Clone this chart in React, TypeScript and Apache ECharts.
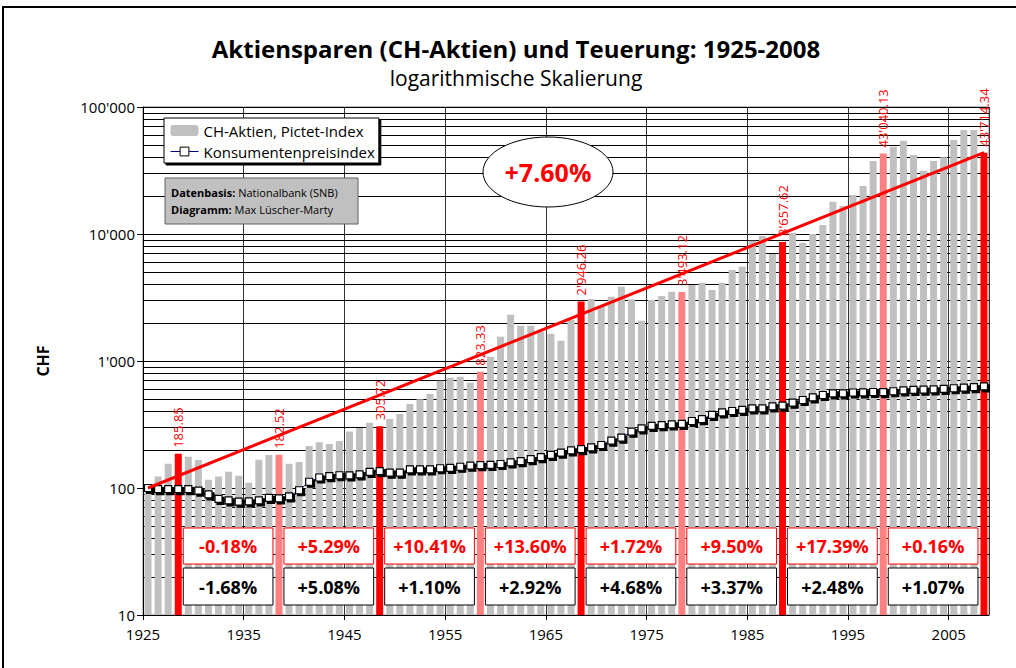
import React, { useEffect, useRef } from 'react';
import * as echarts from 'echarts';

const START_YEAR = 1925;

// CH-Aktien, Pictet-Index (CHF, 1925 = 100)
const stockIndex = [
  100, 123, 155, 185.85, 176, 166, 116, 123, 134, 125,
  110, 167, 182, 182.52, 155, 160, 214, 229, 222, 234,
  278, 297, 327, 305.72, 350, 382, 458, 499, 550, 700,
  739, 752, 675, 823.33, 1081, 1554, 2315, 1897, 1897, 1702,
  1640, 1445, 2104, 2946.26, 3078, 2711, 3208, 3846, 3060, 2075,
  3022, 3250, 3514, 3493.12, 3966, 4138, 3623, 4138, 5208, 5530,
  8854, 9645, 6963, 8657.62, 10239, 8536, 10000, 11780, 17960, 16610,
  20290, 23890, 37590, 43040.13, 48680, 54270, 41880, 31520, 37590, 40170,
  54950, 65900, 65900, 43714.34,
];

// Konsumentenpreisindex (1925 = 100)
const cpiIndex = [
  100, 98, 98, 98.1, 98, 95.5, 89, 82, 80, 78,
  78.5, 80, 83.5, 82.8, 86, 96, 112, 121, 124, 126,
  125.5, 128, 134, 135.9, 132, 132, 140, 140, 140, 143,
  144, 147, 150, 151.6, 152, 154.5, 159, 163, 169, 175,
  182, 190, 198, 202.1, 209, 218, 236, 249, 278, 295,
  308, 313, 317, 319.4, 337, 349, 376, 394, 404, 412,
  424, 424, 440, 444.9, 470, 493, 518, 540, 555, 555,
  565, 567, 570, 568.4, 578, 588, 592, 595, 598, 603,
  610, 616, 622, 632.2,
];

const years = stockIndex.map((_, i) => START_YEAR + i);

const highlightYears = [1928, 1938, 1948, 1958, 1968, 1978, 1988, 1998, 2008];
const highlightColors = ['#ff0000', '#ff8080', '#ff0000', '#ff8080', '#ff0000', '#ff8080', '#ff0000', '#ff8080', '#ff0000'];

const stockReturns = ['-0.18%', '+5.29%', '+10.41%', '+13.60%', '+1.72%', '+9.50%', '+17.39%', '+0.16%'];
const inflationRates = ['-1.68%', '+5.08%', '+1.10%', '+2.92%', '+4.68%', '+3.37%', '+2.48%', '+1.07%'];

const yTickLabels = ['10', '100', "1'000", "10'000", "100'000"];
const xTickYears = [1925, 1935, 1945, 1955, 1965, 1975, 1985, 1995, 2005];
const trendLabel = '+7.60%';

const TITLE = 'Aktiensparen (CH-Aktien) und Teuerung: 1925-2008';
const SUBTITLE = 'logarithmische Skalierung';
const SERIES_STOCK = 'CH-Aktien, Pictet-Index';
const SERIES_CPI = 'Konsumentenpreisindex';

const FONT = '"Open Sans", "Noto Sans", sans-serif';

function fmtCHF(v: number): string {
  const [intPart, dec] = v.toFixed(2).split('.');
  return intPart.replace(/\B(?=(\d{3})+(?!\d))/g, "'") + '.' + dec;
}

const minorGridValues = [10, 100, 1000, 10000].flatMap((d) => [2, 3, 4, 5, 6, 7, 8, 9].map((k) => k * d));

export default function App() {
  const ref = useRef<HTMLDivElement>(null);

  useEffect(() => {
    if (!ref.current) return;
    const chart = echarts.init(ref.current, undefined, { renderer: 'svg' });

    const barData = years.map((y, i) => {
      const hi = highlightYears.indexOf(y);
      if (hi < 0) return [y + 0.5, stockIndex[i]];
      return {
        value: [y + 0.5, stockIndex[i]],
        itemStyle: { color: highlightColors[hi] },
        label: {
          show: true,
          position: 'top',
          rotate: 90,
          align: 'left',
          verticalAlign: 'middle',
          distance: 6,
          color: '#ff0000',
          fontSize: 13,
          fontFamily: FONT,
          formatter: () => fmtCHF(stockIndex[i]),
        },
      };
    });

    const cpiData = years.map((y, i) => [y + 0.5, cpiIndex[i]]);

    const option: any = {
      animation: false,
      backgroundColor: '#ffffff',
      textStyle: { fontFamily: FONT },
      grid: {
        left: 143,
        top: 107,
        right: 27,
        bottom: 53,
        show: true,
        borderColor: '#808080',
        borderWidth: 1,
        backgroundColor: 'transparent',
      },
      legend: {
        data: [
          { name: SERIES_STOCK },
          {
            name: SERIES_CPI,
            itemStyle: { shadowColor: 'rgba(0,0,0,0)', shadowOffsetX: 0, shadowOffsetY: 0, borderWidth: 1 },
            lineStyle: { width: 1, color: '#000080' },
          },
        ],
        orient: 'vertical',
        left: 164,
        top: 118,
        itemWidth: 28,
        itemHeight: 11,
        itemGap: 6,
        padding: [5, 4, 4, 6],
        backgroundColor: '#ffffff',
        borderColor: '#000000',
        borderWidth: 1,
        shadowColor: '#000000',
        shadowBlur: 0,
        shadowOffsetX: 2,
        shadowOffsetY: 2,
        textStyle: { fontSize: 15, color: '#000', fontFamily: FONT },
        selectedMode: false,
        z: 8,
      },
      xAxis: {
        type: 'value',
        min: 1925,
        max: 2009,
        interval: 10,
        axisLine: { show: true, lineStyle: { color: '#000', width: 1 } },
        axisTick: { show: true, length: 5, lineStyle: { color: '#000' } },
        axisLabel: {
          fontSize: 15,
          color: '#000',
          margin: 11,
          fontFamily: FONT,
          showMaxLabel: false,
          formatter: (v: number) => (xTickYears.indexOf(v) >= 0 ? String(v) : ''),
        },
        splitLine: { show: true, lineStyle: { color: '#333', width: 1 } },
      },
      yAxis: {
        type: 'log',
        logBase: 10,
        min: 10,
        max: 100000,
        name: 'CHF',
        nameLocation: 'middle',
        nameRotate: 90,
        nameGap: 92,
        nameTextStyle: { fontSize: 16, fontWeight: 'bold', color: '#000', fontFamily: FONT },
        axisLine: { show: true, lineStyle: { color: '#000', width: 1 } },
        axisTick: { show: true, length: 6, lineStyle: { color: '#000' } },
        axisLabel: {
          fontSize: 15,
          color: '#000',
          margin: 8,
          fontFamily: FONT,
          formatter: (v: number) => yTickLabels[Math.round(Math.log10(v)) - 1] ?? '',
        },
        splitLine: { show: true, lineStyle: { color: '#000', width: 1 } },
      },
      series: [
        {
          name: 'grid-minor',
          type: 'line',
          data: [],
          silent: true,
          markLine: {
            silent: true,
            z: 1,
            symbol: 'none',
            label: { show: false },
            lineStyle: { color: '#000', width: 1, type: 'solid' },
            emphasis: { disabled: true },
            data: minorGridValues.map((v) => ({ yAxis: v })),
          },
        },
        {
          name: SERIES_STOCK,
          type: 'bar',
          barWidth: 7,
          itemStyle: { color: '#c0c0c0' },
          data: barData,
          z: 2,
        },
        {
          name: SERIES_CPI,
          type: 'line',
          data: cpiData,
          z: 4,
          symbol: 'rect',
          symbolSize: 7,
          showAllSymbol: true,
          lineStyle: { color: '#000080', width: 1 },
          itemStyle: {
            color: '#ffffff',
            borderColor: '#000000',
            borderWidth: 1.2,
            shadowColor: '#000000',
            shadowBlur: 0,
            shadowOffsetX: 2,
            shadowOffsetY: 2,
          },
        },
        {
          name: 'trend',
          type: 'line',
          data: [],
          silent: true,
          markLine: {
            silent: true,
            z: 6,
            symbol: ['none', 'arrow'],
            symbolSize: [0, 14],
            label: { show: false },
            lineStyle: { color: '#ff0000', width: 3, type: 'solid' },
            emphasis: { disabled: true },
            data: [
              [
                { coord: [years[0] + 0.5, stockIndex[0]] },
                { coord: [years[years.length - 1] + 0.5, stockIndex[stockIndex.length - 1]] },
              ],
            ],
          },
        },
      ],
    };

    chart.setOption(option);

    // annotation boxes between highlighted bars
    const elements: any[] = [];
    for (let i = 0; i < stockReturns.length; i++) {
      const xa = chart.convertToPixel({ xAxisIndex: 0 }, highlightYears[i] + 0.5) as number;
      const xb = chart.convertToPixel({ xAxisIndex: 0 }, highlightYears[i + 1] + 0.5) as number;
      const x0 = xa + 5;
      const x1 = xb - 6;
      elements.push({
        type: 'rect',
        z: 10,
        shape: { x: x0, y: 528, width: x1 - x0, height: 36 },
        style: { fill: '#ffffff', stroke: '#ff0000', lineWidth: 1 },
      });
      elements.push({
        type: 'text',
        z: 11,
        x: (x0 + x1) / 2,
        y: 546,
        style: {
          text: stockReturns[i],
          fill: '#ff0000',
          fontSize: 18,
          fontWeight: 'bold',
          fontFamily: FONT,
          align: 'center',
          verticalAlign: 'middle',
        },
      });
      elements.push({
        type: 'rect',
        z: 10,
        shape: { x: x0, y: 568, width: x1 - x0, height: 37 },
        style: { fill: '#ffffff', stroke: '#000000', lineWidth: 1 },
      });
      elements.push({
        type: 'text',
        z: 11,
        x: (x0 + x1) / 2,
        y: 587,
        style: {
          text: inflationRates[i],
          fill: '#000000',
          fontSize: 18,
          fontWeight: 'bold',
          fontFamily: FONT,
          align: 'center',
          verticalAlign: 'middle',
        },
      });
    }

    chart.setOption({
      graphic: [
        {
          type: 'rect',
          z: 20,
          shape: { x: 3, y: 7, width: 1100, height: 700 },
          style: { fill: 'none', stroke: '#000', lineWidth: 2 },
        },
        {
          type: 'text',
          z: 20,
          x: 516,
          y: 48,
          style: {
            text: TITLE,
            fill: '#000',
            fontSize: 24,
            fontWeight: 'bold',
            fontFamily: FONT,
            align: 'center',
            verticalAlign: 'middle',
          },
        },
        {
          type: 'text',
          z: 20,
          x: 516,
          y: 78,
          style: {
            text: SUBTITLE,
            fill: '#000',
            fontSize: 21,
            fontFamily: FONT,
            align: 'center',
            verticalAlign: 'middle',
          },
        },
        {
          type: 'rect',
          z: 10,
          shape: { x: 165, y: 178, width: 193, height: 46 },
          style: { fill: '#c0c0c0', stroke: '#606060', lineWidth: 1 },
        },
        {
          type: 'text',
          z: 11,
          x: 171,
          y: 201,
          style: {
            text: '{b|Datenbasis:} Nationalbank (SNB)\n{b|Diagramm:} Max Lüscher-Marty',
            fill: '#000',
            fontSize: 11,
            fontFamily: FONT,
            lineHeight: 17,
            verticalAlign: 'middle',
            rich: {
              b: { fontWeight: 'bold', fontSize: 11, fontFamily: FONT, fill: '#000', lineHeight: 17 },
            },
          },
        },
        {
          type: 'ellipse',
          z: 10,
          shape: { cx: 548, cy: 172, rx: 65, ry: 35 },
          style: { fill: '#ffffff', stroke: '#000', lineWidth: 1 },
        },
        {
          type: 'text',
          z: 11,
          x: 548,
          y: 172,
          style: {
            text: trendLabel,
            fill: '#ff0000',
            fontSize: 25,
            fontWeight: 'bold',
            fontFamily: FONT,
            align: 'center',
            verticalAlign: 'middle',
          },
        },
        ...elements,
      ],
    });

    return () => {
      chart.dispose();
    };
  }, []);

  return (
    <div
      ref={ref}
      style={{ position: 'absolute', left: 0, top: 0, width: 1016, height: 668, background: '#fff' }}
    />
  );
}
